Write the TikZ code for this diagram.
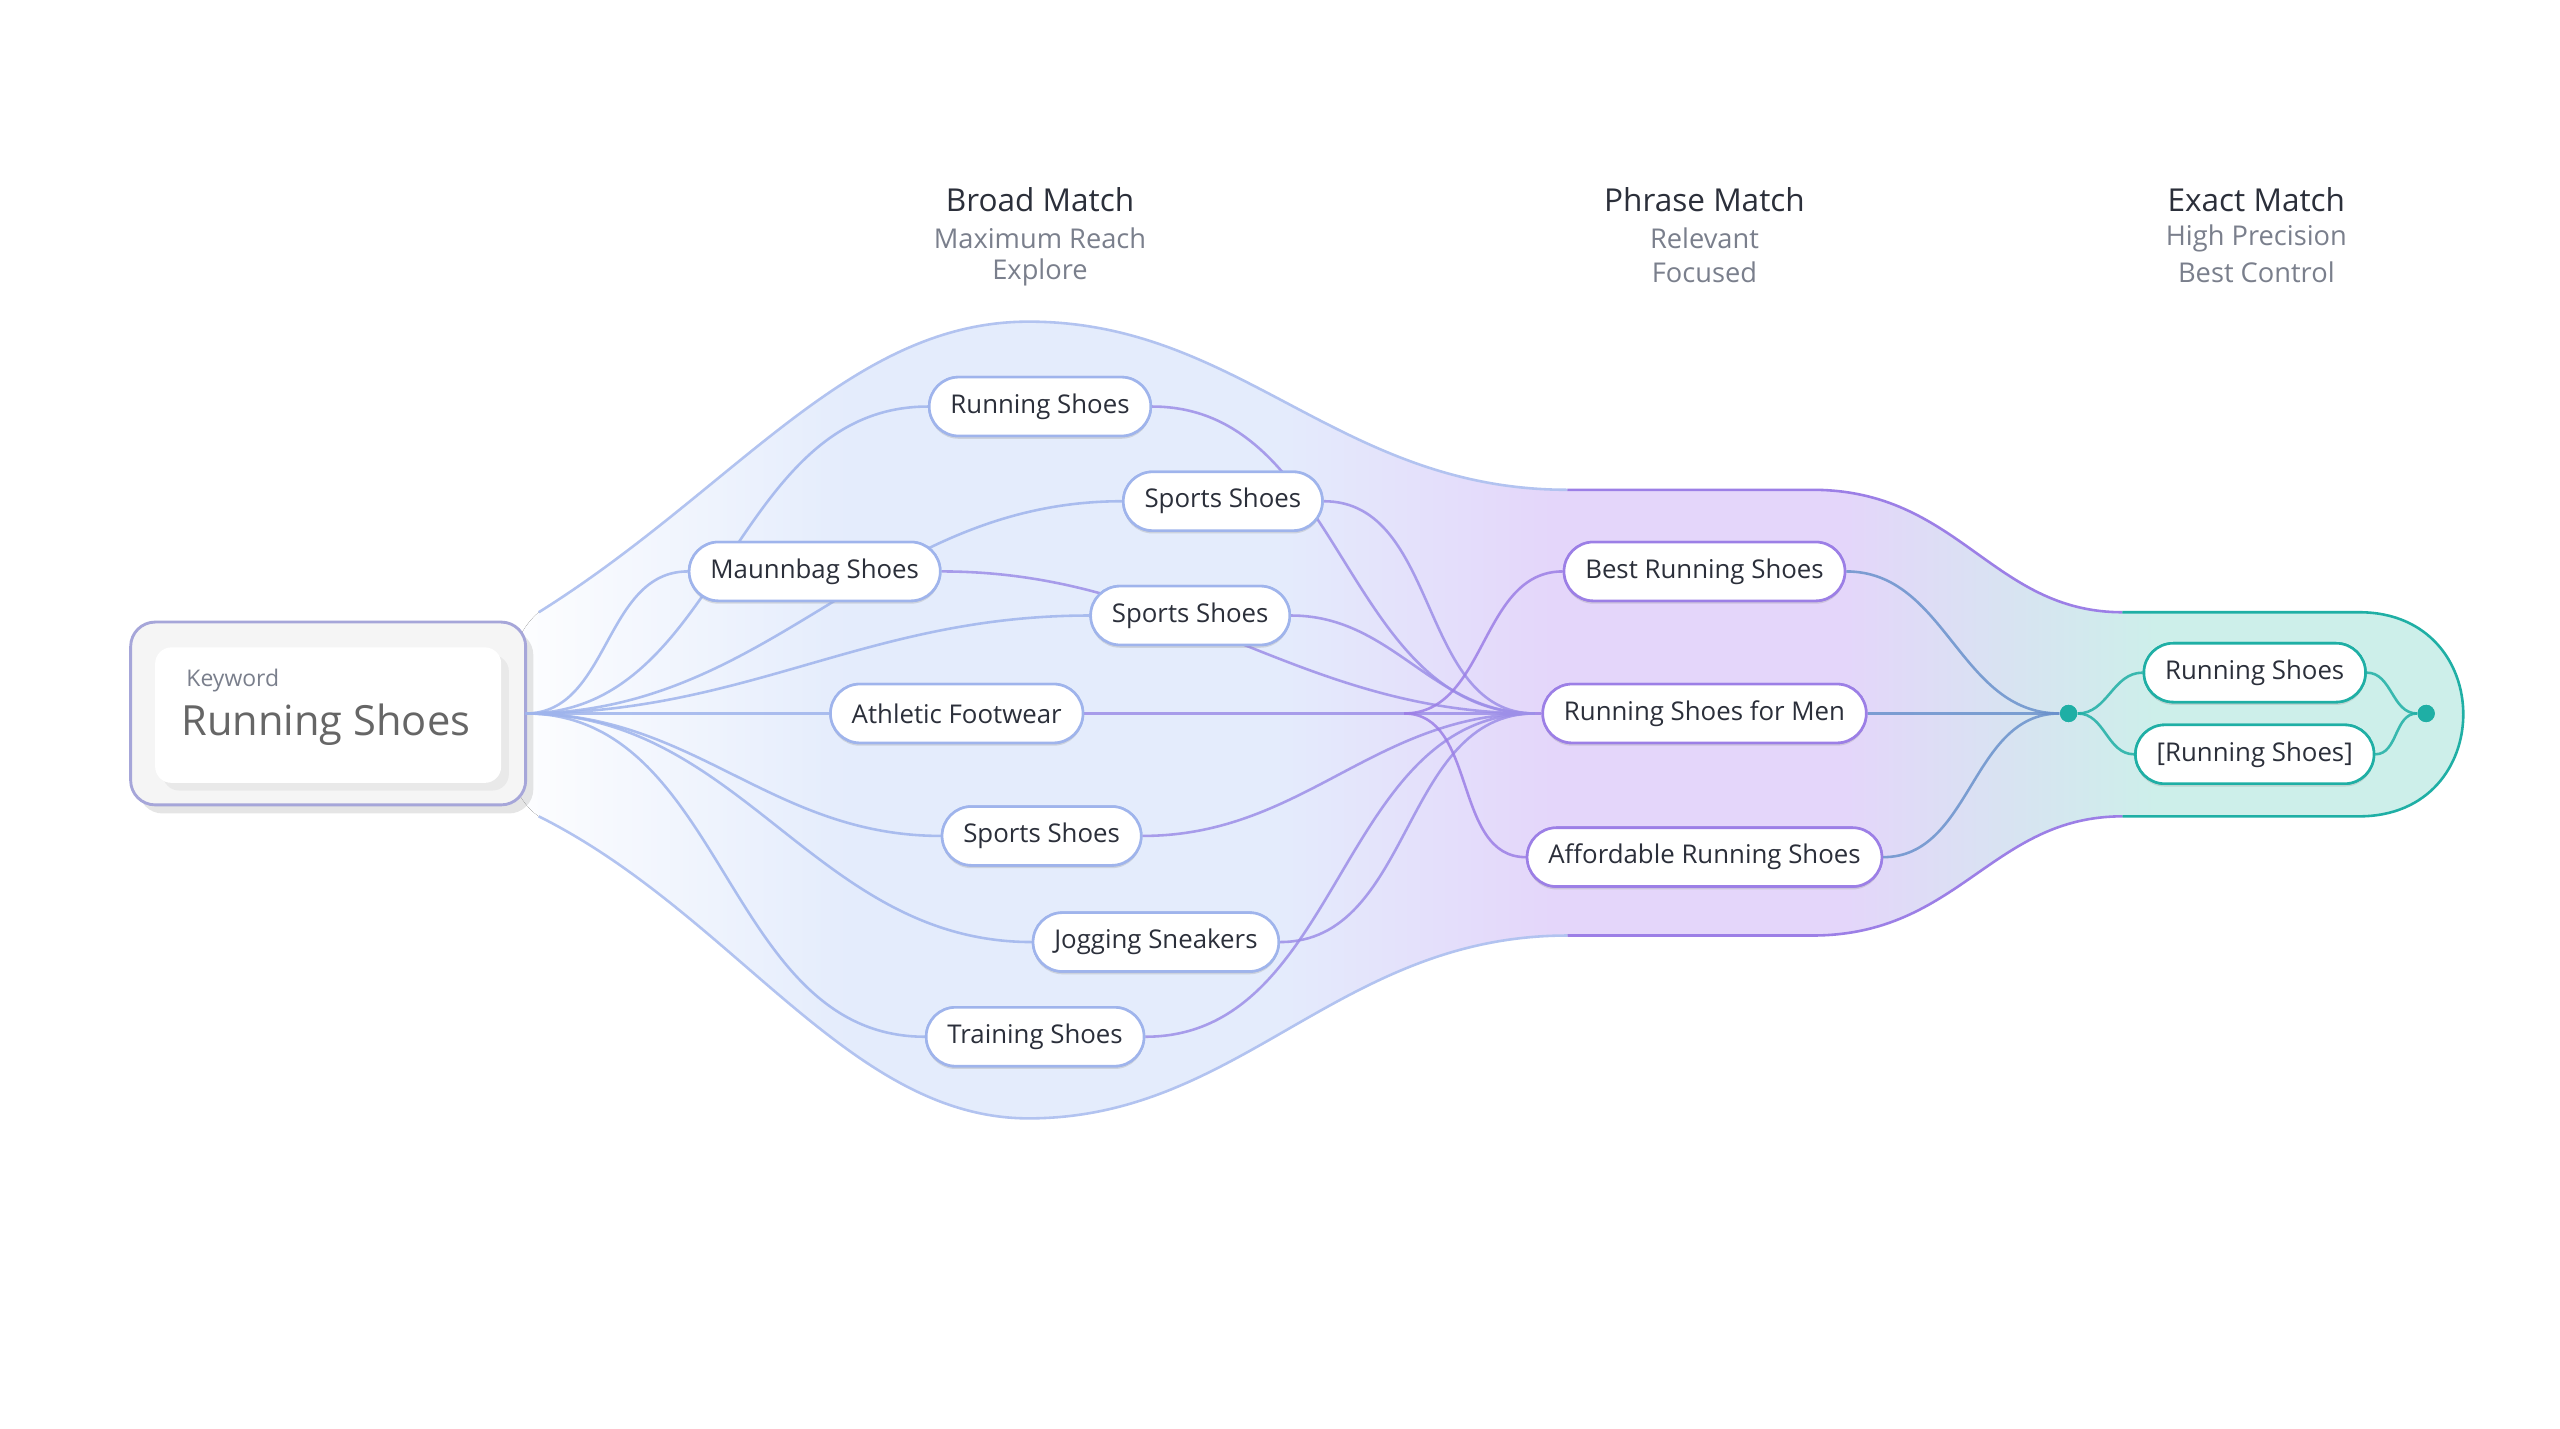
\documentclass[tikz,border=0pt]{standalone}
\usepackage{fontspec}
\setmainfont{Open Sans}
\usetikzlibrary{shadows}
\definecolor{lineblue}{HTML}{9FB4EC}
\definecolor{linevio}{HTML}{9C7FE6}
\definecolor{lineteal}{HTML}{1FAFA5}
\definecolor{txt}{HTML}{2B2F3A}
\definecolor{subtxt}{HTML}{7A7F8C}
\definecolor{envblue}{HTML}{E4ECFC}
\definecolor{envvio}{HTML}{E4D6FA}
\definecolor{envteal}{HTML}{CDEFEA}
\tikzset{
  term/.style={draw=#1, line width=0.9pt, fill=white, rounded corners=0.36cm, minimum height=0.72cm, inner xsep=0.26cm, font=\fontsize{9}{11}\selectfont, text=txt, drop shadow={opacity=0.12, shadow xshift=0pt, shadow yshift=-1pt}},
  term/.default=lineblue,
  head/.style={font=\fontsize{11}{13}\selectfont, text=txt},
  sub/.style={font=\fontsize{9.5}{11}\selectfont, text=subtxt},
  link/.style={draw=#1, line width=0.9pt, opacity=0.85},
  dot/.style={circle, fill=lineteal, minimum size=6pt, inner sep=0pt}
}
\begin{document}
\begin{tikzpicture}[x=0.02cm, y=-0.02cm]
\useasboundingbox[fill=white] (0,0) rectangle (1568,875);
% envelope
\begin{scope}
\clip (330,375) .. controls (450,300) and (520,197) .. (630,197) .. controls (760,197) and (820,300) .. (960,300) -- (1110,300)
  .. controls (1200,300) and (1220,375) .. (1300,375) -- (1445,375) .. controls (1530,375) and (1530,500) .. (1445,500) -- (1300,500)
  .. controls (1220,500) and (1200,573) .. (1110,573) -- (960,573) .. controls (820,573) and (760,685) .. (630,685)
  .. controls (520,685) and (450,560) .. (330,500) .. controls (300,480) and (300,400) .. cycle;
\fill[left color=white, right color=envblue] (300,150) rectangle (520,720);
\fill[envblue] (519,150) rectangle (781,720);
\fill[left color=envblue, right color=envvio] (780,150) rectangle (951,720);
\fill[envvio] (950,150) rectangle (1131,720);
\fill[left color=envvio, right color=envteal] (1130,150) rectangle (1321,720);
\fill[envteal] (1320,150) rectangle (1530,720);
\end{scope}
\draw[lineblue!80, line width=0.9pt] (330,375) .. controls (450,300) and (520,197) .. (630,197) .. controls (760,197) and (820,300) .. (960,300);
\draw[linevio, line width=0.9pt] (960,300) -- (1110,300) .. controls (1200,300) and (1220,375) .. (1300,375);
\draw[lineteal, line width=0.9pt] (1300,375) -- (1445,375) .. controls (1530,375) and (1530,500) .. (1445,500) -- (1300,500);
\draw[linevio, line width=0.9pt] (1300,500) .. controls (1220,500) and (1200,573) .. (1110,573) -- (960,573);
\draw[lineblue!80, line width=0.9pt] (960,573) .. controls (820,573) and (760,685) .. (630,685) .. controls (520,685) and (450,560) .. (330,500);
% headers
\node[head] (broadH) at (637,122) {Broad Match};
\node[sub] (broadA) at (637,146) {Maximum Reach};
\node[sub] (broadB) at (637,167) {Explore};
\node[head] (phraseH) at (1044,122) {Phrase Match};
\node[sub] (phraseA) at (1044,146) {Relevant};
\node[sub] (phraseB) at (1044,167) {Focused};
\node[head] (exactH) at (1382,122) {Exact Match};
\node[sub] (exactA) at (1382,146) {High Precision};
\node[sub] (exactB) at (1382,167) {Best Control};
% keyword
\node[draw=gray!60!blue!50, line width=1pt, fill=gray!8, rounded corners=0.3cm, minimum width=4.84cm, minimum height=2.24cm, drop shadow={opacity=0.2, shadow yshift=-3pt}] (kwbox) at (201,437) {};
\node[fill=white, rounded corners=0.2cm, minimum width=4.24cm, minimum height=1.66cm, drop shadow={opacity=0.1}] (kwin) at (201,438) {};
\node[font=\fontsize{8}{10}\selectfont, text=subtxt, anchor=west] (kwlbl) at (108,417) {Keyword};
\node[font=\fontsize{14.5}{17}\selectfont, text=gray!80!black, anchor=west] (kwtxt) at (105,444) {Running Shoes};
\coordinate (kw) at (322,437);
\coordinate (hub) at (940,437);
\coordinate (hubB) at (860,437);
% broad
\node[term] (B1) at (637,249) {Running Shoes};
\node[term] (B2) at (749,307) {Sports Shoes};
\node[term] (B3) at (499,350) {Maunnbag Shoes};
\node[term] (B4) at (729,377) {Sports Shoes};
\node[term] (B5) at (586,437) {Athletic Footwear};
\node[term] (B6) at (638,512) {Sports Shoes};
\node[term] (B7) at (708,577) {Jogging Sneakers};
\node[term] (B8) at (634,635) {Training Shoes};
% phrase
\node[term=linevio] (P1) at (1044,350) {Best Running Shoes};
\node[term=linevio] (P2) at (1044,437) {Running Shoes for Men};
\node[term=linevio] (P3) at (1044,525) {Affordable Running Shoes};
% exact
\node[dot] (D1) at (1267,437) {};
\node[dot] (D2) at (1486,437) {};
\node[term=lineteal] (E1) at (1381,412) {Running Shoes};
\node[term=lineteal] (E2) at (1381,462) {[Running Shoes]};
% links
\foreach \n in {B1,B2,B3,B4,B5,B6,B7,B8}{
  \draw[link=lineblue] (kw) to[out=0, in=180] (\n.west);
  \draw[link=linevio!70!lineblue] (\n.east) to[out=0, in=180] (hub);
}
\draw[link=linevio] (hub) -- (P2.west);
\draw[link=linevio] (hubB) to[out=0, in=180] (P1.west);
\draw[link=linevio] (hubB) to[out=0, in=180] (P3.west);
\foreach \n in {P1,P2,P3}
  \draw[link=linevio!60!lineteal] (\n.east) to[out=0, in=180] (D1);
\draw[link=lineteal] (D1) to[out=0, in=180] (E1.west);
\draw[link=lineteal] (D1) to[out=0, in=180] (E2.west);
\draw[link=lineteal] (E1.east) to[out=0, in=180] (D2);
\draw[link=lineteal] (E2.east) to[out=0, in=180] (D2);
% redraw nodes above links
\foreach \n/\t in {B1/Running Shoes,B2/Sports Shoes,B3/Maunnbag Shoes,B4/Sports Shoes,B5/Athletic Footwear,B6/Sports Shoes,B7/Jogging Sneakers,B8/Training Shoes}
  \node[term] at (\n) {\t};
\foreach \n/\t in {P1/Best Running Shoes,P2/Running Shoes for Men,P3/Affordable Running Shoes}
  \node[term=linevio] at (\n) {\t};
\node[term=lineteal] at (E1) {Running Shoes};
\node[term=lineteal] at (E2) {[Running Shoes]};
\node[dot] at (D1) {};
\node[dot] at (D2) {};
\end{tikzpicture}
\end{document}
